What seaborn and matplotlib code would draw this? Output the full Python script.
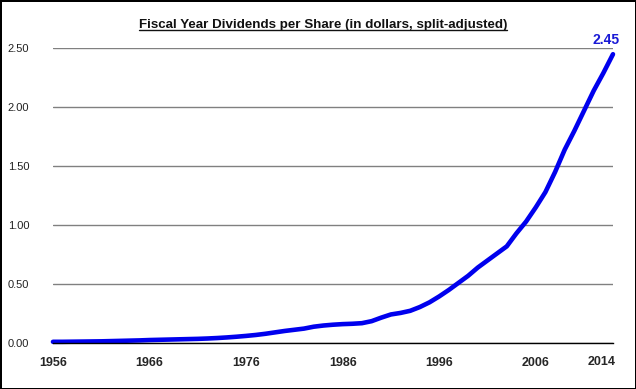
import matplotlib
matplotlib.use("Agg")
import matplotlib.pyplot as plt
import seaborn as sns
import pandas as pd
from matplotlib.lines import Line2D

# fiscal years and dividends per share (split-adjusted)
years = list(range(1956, 2015))
dividends = [0.010, 0.010, 0.011, 0.012, 0.013, 0.014, 0.016, 0.018, 0.020, 0.022,
             0.025, 0.027, 0.029, 0.031, 0.033, 0.035, 0.038, 0.042, 0.047, 0.053,
             0.060, 0.068, 0.078, 0.090, 0.102, 0.112, 0.122, 0.138, 0.148, 0.155,
             0.160, 0.163, 0.168, 0.185, 0.215, 0.242, 0.255, 0.273, 0.305, 0.345,
             0.395, 0.450, 0.510, 0.570, 0.640, 0.700, 0.760, 0.820, 0.930, 1.030,
             1.150, 1.280, 1.450, 1.640, 1.800, 1.970, 2.140, 2.290, 2.450]
tick_years = list(range(1956, 2015, 5))
label_years = [1956, 1966, 1976, 1986, 1996, 2006]
y_ticks = [0.0, 0.5, 1.0, 1.5, 2.0, 2.5]

title = "Fiscal Year Dividends per Share (in dollars, split-adjusted)"
blue = "#0000EE"

sns.set_style("white")
plt.rcParams["font.family"] = ["Liberation Sans", "DejaVu Sans"]

fig = plt.figure(figsize=(6.36, 3.89), dpi=100, edgecolor="black", linewidth=2)
ax = fig.add_axes([0.0833, 0.1183, 0.8805, 0.7575])

df = pd.DataFrame({"Year": years, "Dividend": dividends})
sns.lineplot(data=df, x="Year", y="Dividend", ax=ax, color=blue, linewidth=3.3,
             clip_on=False, solid_capstyle="round")

ax.set_xlim(1956, 2014)
ax.set_ylim(0, 2.5)
ax.set_xlabel("")
ax.set_ylabel("")

# y axis: gray gridlines, no ticks
ax.set_yticks(y_ticks)
ax.set_yticklabels([f"{v:.2f}" for v in y_ticks], fontsize=8, color="#222222")
ax.grid(axis="y", color="#808080", linewidth=1)
ax.set_axisbelow(True)
ax.tick_params(axis="y", length=0, pad=17)

# x axis: tick every 5 years, label every 10
ax.set_xticks(tick_years)
ax.set_xticklabels([str(y) if y in label_years else "" for y in tick_years],
                   fontsize=9, fontweight="bold")
ax.tick_params(axis="x", length=4, width=1, direction="out", color="black", pad=6)
ax.annotate("2014", xy=(years[-1], 0), xycoords=("data", "axes fraction"),
            xytext=(-8, -14), textcoords="offset points", ha="center", va="center",
            fontsize=9, fontweight="bold")

for s in ["left", "top", "right"]:
    ax.spines[s].set_visible(False)
ax.spines["bottom"].set_color("black")
ax.spines["bottom"].set_linewidth(1)

# last value label
ax.annotate(f"{dividends[-1]:.2f}", xy=(years[-1], dividends[-1]),
            xytext=(-5, 10), textcoords="offset points", ha="center", va="center",
            fontsize=10, fontweight="bold", color="#1a1ad6")

# underlined title
t = fig.text(0.508, 1 - 25 / 389, title, ha="center", va="center",
             fontsize=9.6, fontweight="bold", color="#111111")
fig.canvas.draw()
bb = t.get_window_extent(renderer=fig.canvas.get_renderer()).transformed(fig.transFigure.inverted())
fig.add_artist(Line2D([bb.x0, bb.x1], [bb.y0 + 0.003, bb.y0 + 0.003],
                      transform=fig.transFigure, color="#111111", linewidth=1))

fig.savefig("out.png", dpi=100, edgecolor=fig.get_edgecolor())
